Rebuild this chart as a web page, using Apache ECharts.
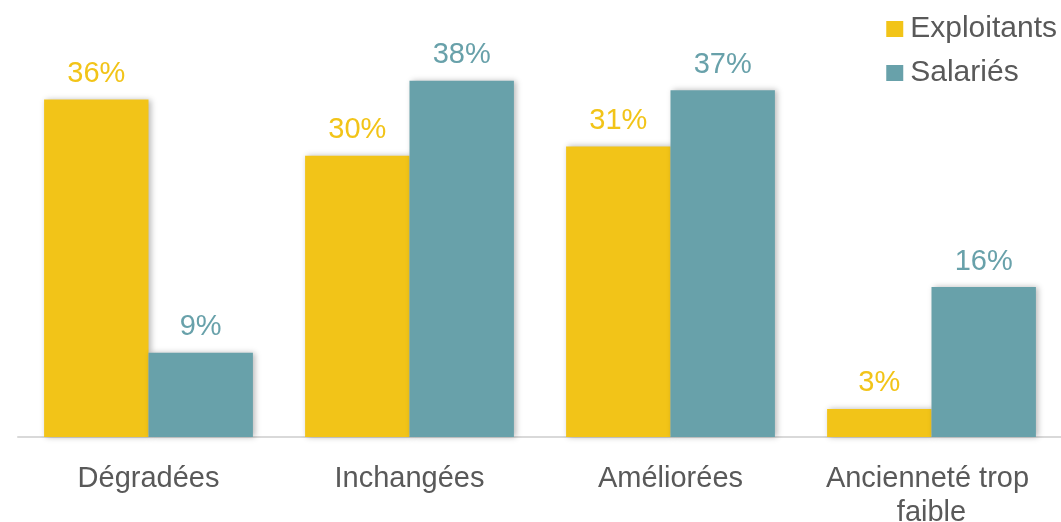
<!DOCTYPE html>
<html>
<head>
<meta charset="utf-8">
<script src="https://cdn.jsdelivr.net/npm/echarts@6/dist/echarts.min.js"></script>
<style>
  html, body { margin: 0; padding: 0; background: #ffffff; }
  #chart { width: 1061px; height: 522px; }
</style>
</head>
<body>
<div id="chart"></div>
<script>
// Conditions de travail selon le statut (en %)
const categories = ['Dégradées', 'Inchangées', 'Améliorées', 'Ancienneté trop faible'];
const exploitants = [36, 30, 31, 3];
const salaries = [9, 38, 37, 16];

const YELLOW = '#F2C418';
const TEAL = '#68A1AA';
const FONT = '"Liberation Sans", Arial, sans-serif';

const barShadow = {
  shadowBlur: 6,
  shadowOffsetX: 2,
  shadowOffsetY: 0,
  shadowColor: 'rgba(0,0,0,0.28)'
};

function seriesOf(name, values, color) {
  return {
    name: name,
    type: 'bar',
    data: values,
    barGap: '0%',
    barCategoryGap: '20%',
    itemStyle: Object.assign({ color: color }, barShadow),
    label: {
      show: true,
      position: 'top',
      distance: 11,
      formatter: '{c}%',
      color: color,
      fontFamily: FONT,
      fontSize: 29
    }
  };
}

const chart = echarts.init(document.getElementById('chart'), null, { renderer: 'canvas' });
chart.setOption({
  animation: false,
  backgroundColor: '#ffffff',
  grid: {
    left: 18, right: -1, top: 62, bottom: 85,
    containLabel: false,
    outerBoundsMode: 'none'
  },
  legend: {
    orient: 'vertical',
    right: -1,
    top: 9,
    itemWidth: 17,
    itemHeight: 16,
    itemGap: 14,
    icon: 'rect',
    textStyle: { fontFamily: FONT, fontSize: 30, color: '#595959', padding: [0, 0, 0, 2] },
    data: ['Exploitants', 'Salariés']
  },
  xAxis: {
    type: 'category',
    data: categories,
    axisLine: { show: true, lineStyle: { color: '#D9D9D9', width: 2 } },
    axisTick: { show: false },
    axisLabel: {
      interval: 0,
      margin: 25,
      color: '#595959',
      fontFamily: FONT,
      fontSize: 29,
      lineHeight: 34,
      width: 240,
      overflow: 'break'
    }
  },
  yAxis: {
    type: 'value',
    min: 0,
    max: 40,
    show: false,
    splitLine: { show: false }
  },
  series: [
    seriesOf('Exploitants', exploitants, YELLOW),
    seriesOf('Salariés', salaries, TEAL)
  ]
});
</script>
</body>
</html>
